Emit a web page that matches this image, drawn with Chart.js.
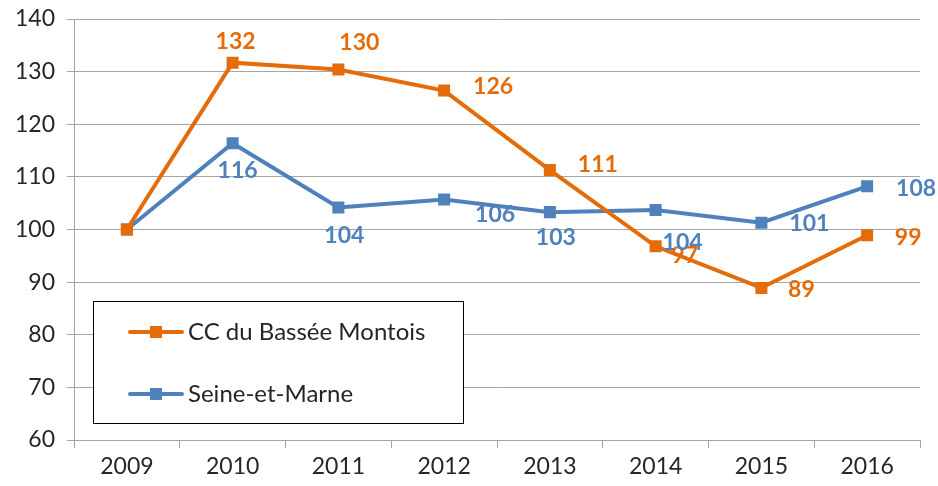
<!DOCTYPE html>
<html>
<head>
<meta charset="utf-8">
<script src="https://cdn.jsdelivr.net/npm/chart.js@4.4.1/dist/chart.umd.min.js"></script>
<style>
    html, body { margin: 0; padding: 0; background: #fff; }
    #wrap { width: 938px; height: 486px; }
</style>
</head>
<body>
<div id="wrap"><canvas id="chart"></canvas></div>
<script>
const years = ['2009', '2010', '2011', '2012', '2013', '2014', '2015', '2016'];
const basseeMontois = [100, 131.7, 130.4, 126.4, 111.3, 96.8, 88.9, 98.9];
const seineEtMarne = [100, 116.4, 104.2, 105.7, 103.3, 103.7, 101.3, 108.2];
const yTicks = [60, 70, 80, 90, 100, 110, 120, 130, 140];

const ORANGE = '#E46C0A';
const BLUE = '#4F81BD';
const FONT = 'Lato, "Open Sans", sans-serif';

// label offset from its point, in px (null = no label), Excel-like placement
const labelOffsets = [
    [null, [3, -21], [21, -27], [49, -4], [48, -5], [29, 9], [40, 2], [41, 2]],
    [null, [5, 27], [6, 28], [51, 15], [6, 25], [27, 33], [48, 1], [49, 2]],
];

const valueLabels = {
    id: 'valueLabels',
    afterDatasetsDraw(chart) {
        const ctx = chart.ctx;
        ctx.save();
        ctx.font = 'bold 23px ' + FONT;
        ctx.textBaseline = 'middle';
        ctx.textAlign = 'center';
        chart.data.datasets.forEach((ds, di) => {
            const meta = chart.getDatasetMeta(di);
            ctx.fillStyle = ds.borderColor;
            meta.data.forEach((pt, i) => {
                const off = labelOffsets[di][i];
                if (!off) {
                    return;
                }
                ctx.fillText(String(Math.round(ds.data[i])), pt.x + off[0], pt.y + off[1]);
            });
        });
        ctx.restore();
    },
};

const boxLegend = {
    id: 'boxLegend',
    afterDraw(chart) {
        const ctx = chart.ctx;
        ctx.save();
        ctx.fillStyle = '#fff';
        ctx.fillRect(93, 301, 370, 122);
        ctx.strokeStyle = '#000';
        ctx.lineWidth = 1;
        ctx.strokeRect(93.5, 301.5, 370, 122);
        const rows = [
            { label: chart.data.datasets[0].label, color: ORANGE, y: 332 },
            { label: chart.data.datasets[1].label, color: BLUE, y: 394 },
        ];
        ctx.font = '24px ' + FONT;
        ctx.textBaseline = 'middle';
        rows.forEach((r) => {
            ctx.strokeStyle = r.color;
            ctx.lineWidth = 4;
            ctx.lineCap = 'round';
            ctx.beginPath();
            ctx.moveTo(130, r.y);
            ctx.lineTo(182, r.y);
            ctx.stroke();
            ctx.fillStyle = r.color;
            ctx.fillRect(150, r.y - 6, 12, 12);
            ctx.fillStyle = '#262626';
            ctx.fillText(r.label, 188, r.y);
        });
        ctx.restore();
    },
};

new Chart(document.getElementById('chart'), {
    type: 'line',
    data: {
        labels: years,
        datasets: [
            {
                label: 'CC du Bassée Montois',
                data: basseeMontois,
                borderColor: ORANGE,
                backgroundColor: ORANGE,
                borderWidth: 4,
                pointStyle: 'rect',
                pointRadius: 8.5,
                pointBorderWidth: 0,
                tension: 0,
            },
            {
                label: 'Seine-et-Marne',
                data: seineEtMarne,
                borderColor: BLUE,
                backgroundColor: BLUE,
                borderWidth: 4,
                pointStyle: 'rect',
                pointRadius: 8.5,
                pointBorderWidth: 0,
                tension: 0,
            },
        ],
    },
    options: {
        responsive: true,
        maintainAspectRatio: false,
        animation: false,
        layout: { padding: { top: 19, right: 18, left: 0, bottom: 0 } },
        plugins: {
            legend: { display: false },
            tooltip: { enabled: false },
        },
        scales: {
            x: {
                offset: true,
                afterFit: (scale) => {
                    scale.height = 46;
                    scale.paddingLeft = 0;
                    scale.paddingRight = 0;
                },
                grid: {
                    offset: true,
                    drawOnChartArea: false,
                    drawTicks: true,
                    tickLength: 8,
                    color: '#a6a6a6',
                },
                border: { color: '#a6a6a6', width: 1 },
                ticks: {
                    color: '#262626',
                    font: { family: FONT, size: 23 },
                    padding: 5,
                },
            },
            y: {
                min: 60,
                max: 140,
                afterFit: (scale) => {
                    scale.width = 74;
                    scale.paddingTop = 0;
                    scale.paddingBottom = 0;
                },
                afterBuildTicks: (axis) => {
                    axis.ticks = yTicks.map((v) => ({ value: v }));
                },
                grid: {
                    color: '#a6a6a6',
                    tickLength: 7,
                },
                border: { color: '#a6a6a6', width: 1 },
                ticks: {
                    color: '#262626',
                    font: { family: FONT, size: 23 },
                    padding: 12,
                },
            },
        },
    },
    plugins: [valueLabels, boxLegend],
});
</script>
</body>
</html>
